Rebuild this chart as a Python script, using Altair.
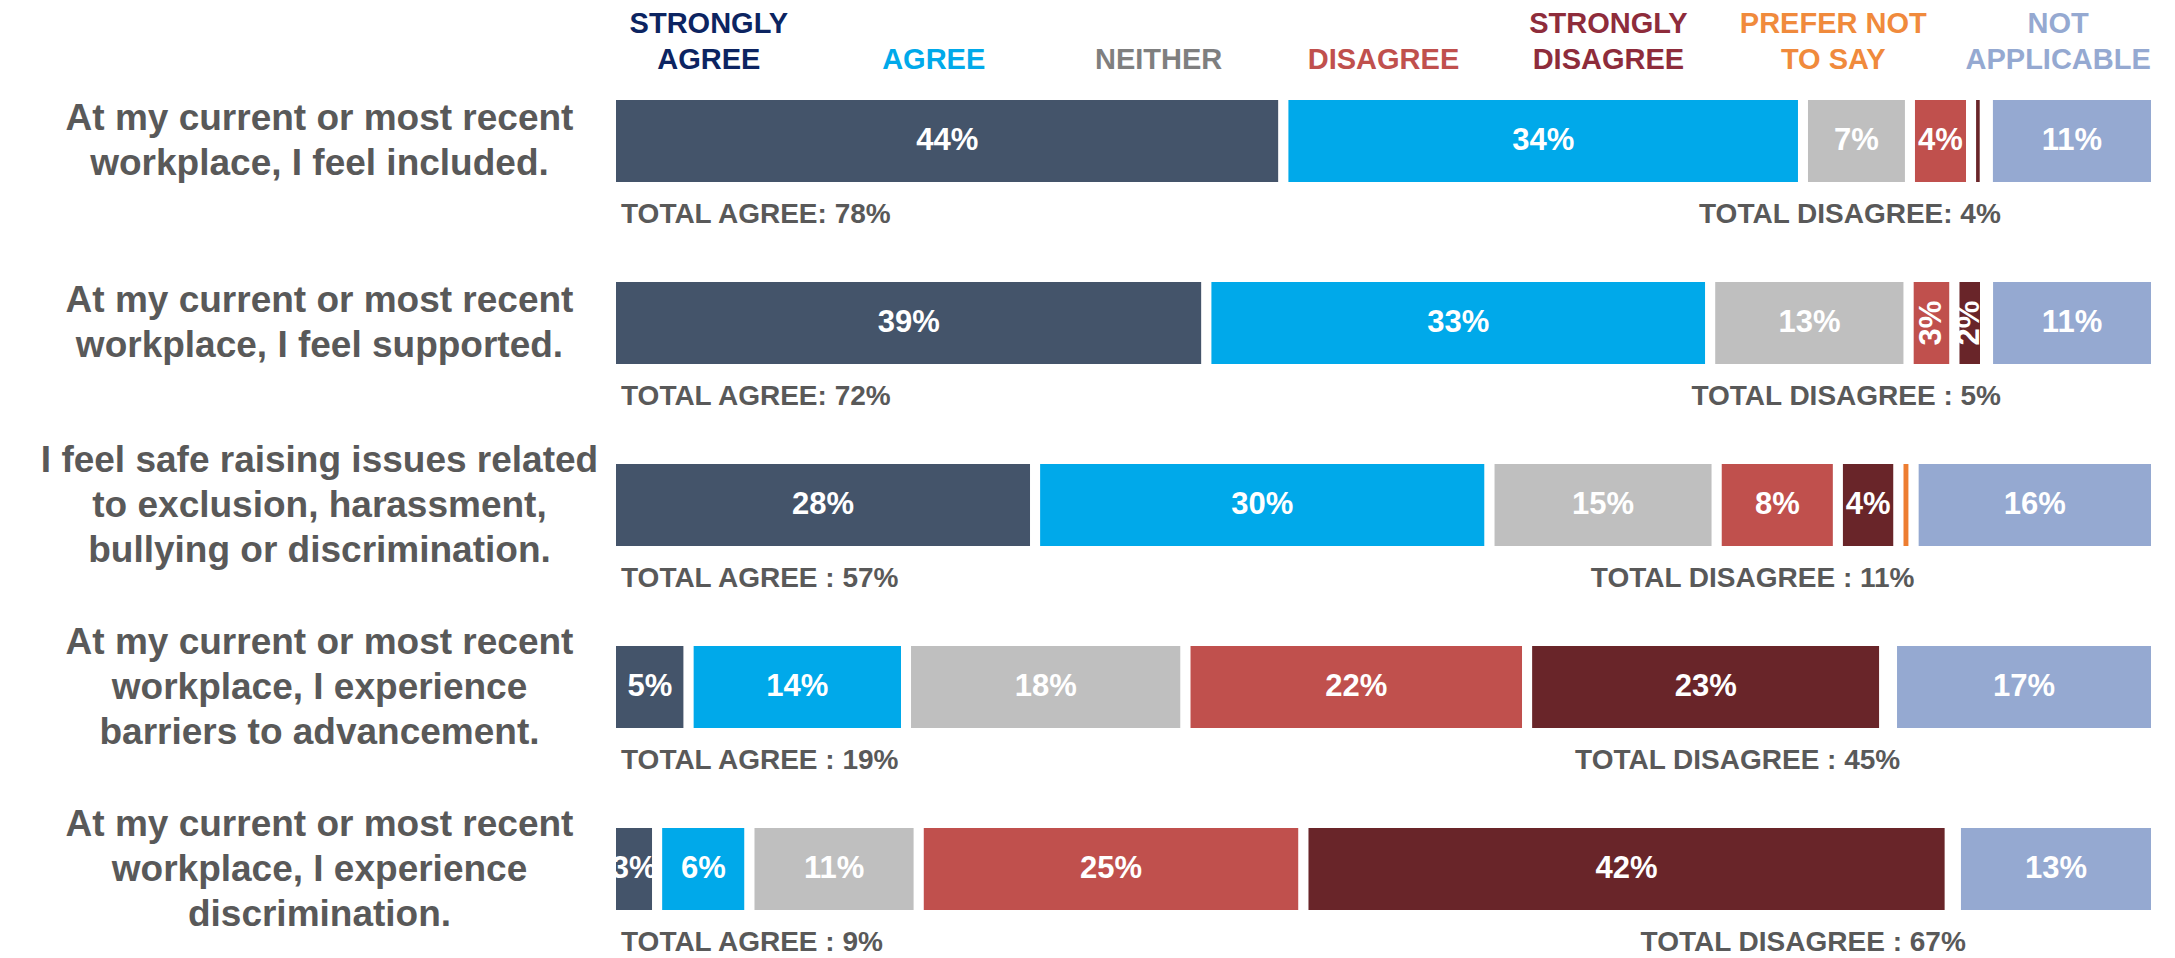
import altair as alt
import pandas as pd

FONT = "Liberation Sans, Arial, Helvetica, sans-serif"

categories = ["STRONGLY AGREE", "AGREE", "NEITHER", "DISAGREE",
              "STRONGLY DISAGREE", "PREFER NOT TO SAY", "NOT APPLICABLE"]
header_line1 = ["STRONGLY", "", "", "", "STRONGLY", "PREFER NOT", "NOT"]
header_line2 = ["AGREE", "AGREE", "NEITHER", "DISAGREE", "DISAGREE", "TO SAY", "APPLICABLE"]

bar_colors = ["#44546A", "#00A9EA", "#BFBFBF", "#C0504D", "#692529", "#ED7D31", "#95A9D1"]
header_colors = ["#0C2461", "#00A9EA", "#7F7F7F", "#C0504D", "#8E2C3B", "#F08A3C", "#95A9D1"]

questions = [
    "At my current or most recent\nworkplace, I feel included.",
    "At my current or most recent\nworkplace, I feel supported.",
    "I feel safe raising issues related\nto exclusion, harassment,\nbullying or discrimination.",
    "At my current or most recent\nworkplace, I experience\nbarriers to advancement.",
    "At my current or most recent\nworkplace, I experience\ndiscrimination.",
]

strongly_agree = [44, 39, 28, 5, 3]
agree = [34, 33, 30, 14, 6]
neither = [7, 13, 15, 18, 11]
disagree = [4, 3, 8, 22, 25]
strongly_disagree = [0.9, 2, 4, 23, 42]
prefer_not = [0.2, 0.2, 1, 0.5, 0.4]
not_applicable = [11, 11, 16, 17, 13]

total_agree = [78, 72, 57, 19, 9]
total_disagree = [4, 5, 11, 45, 67]
agree_sep = [": ", ": ", " : ", " : ", " : "]
disagree_sep = [": ", " : ", " : ", " : ", " : "]

series = [strongly_agree, agree, neither, disagree, strongly_disagree, prefer_not, not_applicable]

rows = []
tot_rows = []
for qi, q in enumerate(questions):
    vals = [s[qi] for s in series]
    total = sum(vals)
    cum = 0.0
    dis_end = 0.0
    for ci, cat in enumerate(categories):
        v = vals[ci]
        start = cum / total
        cum += v
        end = cum / total
        if cat == "STRONGLY DISAGREE":
            dis_end = end
        rows.append({
            "question": q, "qi": qi, "category": cat, "value": v,
            "start": start, "end": end, "mid": (start + end) / 2,
            "label": f"{round(v)}%" if v >= 2 else "",
        })
    tot_rows.append({
        "question": q,
        "agree_text": f"TOTAL AGREE{agree_sep[qi]}{total_agree[qi]}%",
        "dis_text": f"TOTAL DISAGREE{disagree_sep[qi]}{total_disagree[qi]}%",
        "x0": 0.0,
        "xdis": dis_end,
    })

df = pd.DataFrame(rows)
tdf = pd.DataFrame(tot_rows)
hdf = pd.DataFrame({"category": categories, "line1": header_line1, "line2": header_line2})

xscale = alt.Scale(domain=[0, 1], nice=False, zero=False)

y_enc = alt.Y(
    "question:N",
    scale=alt.Scale(type="point", domain=questions, padding=0),
    title=None,
    axis=alt.Axis(
        orient="left", domain=False, ticks=False, tickSize=0, grid=False,
        labelExpr="split(datum.label, '\\n')",
        labelAlign="center", labelBaseline="middle", labelPadding=292,
        labelOffset={"condition": {"test": "length(split(datum.value, '\\n')) > 2", "value": -45},
                     "value": -22.5},
        labelFont=FONT, labelFontSize=37, labelFontWeight="bold",
        labelColor="#595959", labelLineHeight=45, labelLimit=2000,
        labelOverlap=False,
    ),
)

bars = alt.Chart(df).mark_bar(size=92, stroke="white", strokeWidth=10).encode(
    x=alt.X("start:Q", scale=xscale, axis=None),
    x2="end:Q",
    y=y_enc,
    color=alt.Color("category:N", scale=alt.Scale(domain=categories, range=bar_colors), legend=None),
)

pct = alt.Chart(df).mark_text(
    font=FONT, fontSize=31, fontWeight="bold", color="white",
    align="center", baseline="middle",
).encode(
    x=alt.X("mid:Q", scale=xscale, axis=None),
    y=y_enc,
    text="label:N",
    angle=alt.condition("datum.qi == 1 && datum.value < 5", alt.value(270), alt.value(0)),
)

tot_agree = alt.Chart(tdf).mark_text(
    font=FONT, fontSize=28, fontWeight="bold", color="#595959",
    align="left", baseline="middle", dx=10, dy=74,
).encode(
    x=alt.X("x0:Q", scale=xscale, axis=None),
    y=y_enc,
    text="agree_text:N",
)

tot_dis = alt.Chart(tdf).mark_text(
    font=FONT, fontSize=28, fontWeight="bold", color="#595959",
    align="right", baseline="middle", dx=16, dy=74,
).encode(
    x=alt.X("xdis:Q", scale=xscale, axis=None),
    y=y_enc,
    text="dis_text:N",
)

hx = alt.X("category:N", scale=alt.Scale(type="point", domain=categories, padding=0.435), axis=None)
hcolor = alt.Color("category:N", scale=alt.Scale(domain=categories, range=header_colors), legend=None)

head1 = alt.Chart(hdf).mark_text(
    font=FONT, fontSize=29, fontWeight="bold", align="center", baseline="alphabetic",
).encode(x=hx, y=alt.value(-108), text="line1:N", color=hcolor)

head2 = alt.Chart(hdf).mark_text(
    font=FONT, fontSize=29, fontWeight="bold", align="center", baseline="alphabetic",
).encode(x=hx, y=alt.value(-72), text="line2:N", color=hcolor)

chart = alt.layer(bars, pct, tot_agree, tot_dis, head1, head2).resolve_scale(
    x="independent", color="independent"
).properties(
    width=1545, height=728,
    padding={"left": 603, "top": 133, "right": 10, "bottom": 100},
    autosize=alt.AutoSizeParams(type="none"),
    background="white",
).configure_view(stroke=None)

chart.save("out.html", embed_options={"renderer": "svg", "actions": False})
